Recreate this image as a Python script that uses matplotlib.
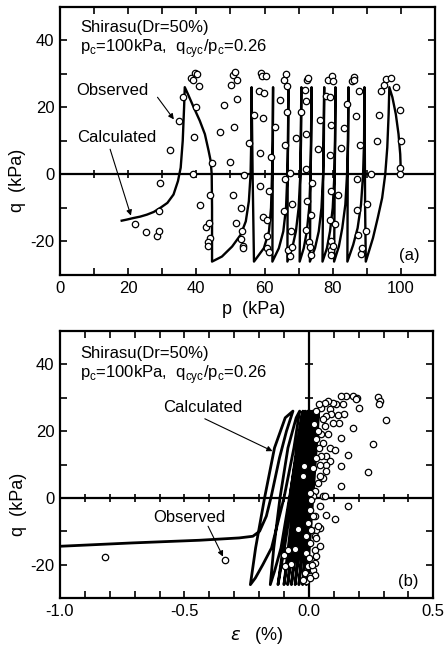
import matplotlib
matplotlib.use("Agg")
import matplotlib.pyplot as plt
from matplotlib.ticker import MultipleLocator, FixedLocator

plt.rcParams['font.family'] = ['Liberation Sans', 'DejaVu Sans']
plt.rcParams['axes.unicode_minus'] = False
plt.rcParams['mathtext.fontset'] = 'dejavusans'

# ---------------- data: panel (a) q-p ----------------
calc_a_p = [100.0, 99.8, 99.3, 98.5, 97.5, 96.6,
            96.4, 96.0, 95.4, 94.5, 93.2, 91.8, 90.6, 89.7,
            89.5, 89.4, 89.3,
            89.2, 88.9, 88.3, 87.3, 86.0, 84.3,
            84.4, 84.6,
            84.5, 84.2, 83.7, 82.8, 81.8, 80.4,
            80.6, 80.8,
            80.7, 80.5, 80.0, 79.2, 78.3, 77.0,
            77.2, 77.5,
            77.4, 77.2, 76.7, 75.9, 74.8, 73.3,
            73.5, 73.8,
            73.7, 73.5, 73.1, 72.4, 71.5, 70.3,
            70.5, 70.8,
            70.7, 70.5, 70.0, 69.2, 68.1, 66.7,
            66.8, 67.0,
            66.9, 66.7, 66.3, 65.5, 64.2, 62.3,
            62.4, 62.5,
            62.4, 62.2, 61.9, 61.3, 59.8, 56.9,
            56.5, 56.2,
            56.1, 55.9, 55.4, 54.5, 53.0, 50.5, 47.5, 44.6,
            44.6, 44.5, 44.2, 43.6, 42.5, 41.0, 39.0, 37.5, 36.6,
            36.4, 36.0, 35.4, 34.6, 33.3, 31.5, 29.4, 27.5, 25.5, 23.5, 21.6, 19.5, 18.1]
calc_a_q = [0, 6, 12, 18, 23, 26,
            18, 8, 0, -7, -13, -19, -23, -26,
            -10, 10, 26,
            10, 0, -9, -16, -21, -26,
            0, 26,
            10, 0, -9, -16, -21.5, -26,
            0, 26,
            10, 0, -10, -17, -22, -26,
            0, 26,
            10, 0, -10, -17, -22, -26,
            0, 26,
            10, 0, -10, -17, -22, -26,
            0, 26,
            10, 0, -10, -17, -22, -26,
            0, 26,
            10, 0, -10, -17, -22, -26,
            0, 26,
            10, 0, -10, -17, -22, -26,
            0, 26,
            10, 0, -8, -14, -18, -21.5, -24.5, -26,
            -10, 0, 4, 7, 12, 16, 20.5, 24, 26,
            20, 10, 2, -2, -6, -8.5, -10, -11.2, -12, -12.6, -13, -13.5, -13.8]

obs_a_p = [22.1, 25.2, 28.4, 28.9, 28.9, 29.4, 32.2, 35.0,
           36.1, 38.5, 39.0, 39.7, 40.2, 40.9, 40.0, 39.4, 39.0, 41.2, 42.7, 43.6, 44.1, 44.6, 44.1, 43.3, 43.3,
           47.0, 48.2, 50.0, 50.3, 50.7, 51.3, 52.0, 51.8, 51.0, 50.7, 51.7, 53.1, 53.4, 53.1, 53.6, 53.6, 53.9, 55.4,
           56.9, 58.3, 59.1, 59.3, 60.3, 59.7, 59.4, 58.8, 58.8, 59.4, 60.8, 60.8, 60.8, 61.4, 61.4, 62.0, 63.0,
           64.5, 65.7, 66.3, 65.9, 65.9, 65.7, 66.5, 66.7, 66.9, 67.5, 67.6, 67.8, 68.1, 68.1, 69.3, 70.8, 71.8,
           72.5, 72.7, 72.3, 72.3, 72.3, 72.5, 72.3, 73.1, 73.2, 73.7, 74.0, 73.5, 75.7, 76.3, 78.0, 78.7, 79.7,
           80.0, 79.2, 79.4, 79.2, 79.4, 79.2, 79.4, 79.4, 79.6, 80.1, 80.7, 81.4, 82.4, 83.3, 84.3, 85.6, 86.1,
           86.3, 86.8, 87.1, 87.1, 87.5, 87.7, 87.9, 88.4, 88.7, 89.9, 90.0, 91.2, 93.1, 93.6, 94.1, 94.9, 95.6,
           97.1, 98.5, 99.8, 100.0, 99.8, 99.8]
obs_a_q = [-14.8, -17.3, -18.5, -16.8, -11.0, -2.5, 7.3, 15.8,
           23.0, 28.7, 28.0, 30.2, 30.0, 26.3, 20.0, 11.2, 0.2, -9.2, -15.6, -14.4, -6.2, 3.5, -19.0, -20.2, -21.5,
           12.5, 20.8, 3.8, 26.8, 29.5, 30.5, 28.0, 22.5, 14.2, -6.2, -14.5, -10.0, -17.0, -19.2, -21.5, -22.0, -0.2, 9.3,
           17.8, 24.8, 30.2, 29.2, 29.2, 24.2, 16.8, 6.5, -3.5, -12.8, -13.5, -18.5, -22.0, -23.2, -5.0, 5.3, 14.2,
           22.2, 28.2, 29.8, 8.7, -1.5, -11.0, 26.5, 18.5, -22.5, -24.2, 0.4, -17.0, -8.8, -21.8, 10.8, 18.7, 25.2,
           28.0, 28.8, 22.0, 12.0, 1.5, -8.0, -16.5, -20.2, -21.8, -12.0, -2.5, -24.0, 7.5, 16.3, 23.3, 28.0, 29.2,
           27.7, 23.2, 14.7, 5.8, -5.0, -13.6, -19.8, -22.5, -24.0, -21.5, -14.8, -6.0, 7.8, 13.7, 21.0, 27.8, 29.0,
           28.2, 17.5, -1.5, -10.5, -18.0, 24.8, 8.8, -23.8, -22.0, -17.0, -8.8, 0.2, 10.0, 17.8, 25.0, 26.8, 28.3,
           28.7, 26.0, 19.2, 10.0, 2.0, 0.0]

# ---------------- data: panel (b) q-eps ----------------
calc_b_eps = [0.000, 0.012, 0.028, 0.040,
              0.030, 0.016, 0.002, -0.006, -0.010,
              -0.001, 0.012, 0.025, 0.034, 0.036,
              0.024, 0.007, -0.010, -0.020, -0.025,
              -0.014, 0.001, 0.016, 0.027, 0.030,
              0.016, -0.004, -0.023, -0.034, -0.040,
              -0.028, -0.010, 0.007, 0.019, 0.022,
              0.007, -0.015, -0.037, -0.049, -0.055,
              -0.041, -0.022, -0.003, 0.011, 0.014,
              -0.003, -0.026, -0.050, -0.063, -0.070,
              -0.055, -0.034, -0.014, 0.001, 0.005,
              -0.013, -0.038, -0.063, -0.078, -0.085,
              -0.069, -0.047, -0.025, -0.009, -0.005,
              -0.024, -0.051, -0.077, -0.092, -0.100,
              -0.083, -0.059, -0.036, -0.019, -0.015,
              -0.037, -0.067, -0.098, -0.115, -0.124,
              -0.104, -0.076, -0.049, -0.029, -0.024,
              -0.045, -0.078, -0.112, -0.138, -0.155,
              -0.141, -0.116, -0.084, -0.051, -0.037,
              -0.060, -0.100, -0.150, -0.185, -0.215, -0.235,
              -0.214, -0.178, -0.138, -0.095, -0.064,
              -0.090, -0.118, -0.151, -0.171, -0.198, -0.225, -0.280, -0.440, -0.710, -1.000]
calc_b_q = [0, 10, 20, 26,
            15, 0, -15, -22, -26,
            -15, 0, 15, 24, 26,
            15, 0, -15, -22, -26,
            -15, 0, 15, 24, 26,
            15, 0, -15, -22, -26,
            -15, 0, 15, 24, 26,
            15, 0, -15, -22, -26,
            -15, 0, 15, 24, 26,
            15, 0, -15, -22, -26,
            -15, 0, 15, 24, 26,
            15, 0, -15, -22, -26,
            -15, 0, 15, 24, 26,
            15, 0, -15, -22, -26,
            -15, 0, 15, 24, 26,
            15, 0, -15, -22, -26,
            -15, 0, 15, 24, 26,
            15, 0, -15, -22, -26,
            -15, 0, 15, 24, 26,
            15, 0, -15, -20, -24, -26,
            -15, 0, 15, 24, 26,
            20, 12, 0.5, -5.5, -10, -11.5, -12, -12.7, -13.5, -14.5]

obs_b_eps = [-0.821, -0.339,
             0.277, 0.284, 0.280, 0.308, 0.257, 0.237, 0.177, 0.195, 0.203, 0.190, 0.179, 0.157,
             0.157, 0.130, 0.130, 0.130, 0.143, 0.136, 0.150, 0.130, 0.107, 0.116, 0.123, 0.110,
             0.096, 0.076, 0.063, 0.050, 0.083, 0.090, 0.070, 0.056, 0.096, 0.063, 0.076, 0.050,
             0.056, 0.083, 0.107, 0.070, 0.050, 0.083, 0.070, 0.070, 0.056, 0.043, 0.036, 0.016,
             0.023, 0.056, 0.063, 0.016, 0.043, 0.070, 0.023, 0.043, 0.030, 0.027, 0.003, 0.010,
             0.003, 0.016, -0.004, 0.009, -0.011, 0.023, 0.003, 0.023, -0.011, 0.009, -0.004, -0.017,
             0.003, -0.011, -0.024, 0.036, 0.043, 0.030, 0.023, 0.016, 0.030, -0.044, -0.057, -0.070,
             -0.095, -0.100, -0.085, 0.030, 0.040, 0.020, 0.035, 0.040, 0.030, 0.045, -0.021, -0.025,
             0.023, 0.013, 0.006, 0.000]
obs_b_q = [-17.7, -18.7,
           30.3, 29.0, 28.0, 23.2, 16.2, 7.7, 30.5, 30.0, 27.0, 29.5, 21.0, 12.7,
           -2.3, 9.5, 3.7, 18.0, 25.0, 28.0, 30.5, 30.5, -6.3, 24.7, 22.5, 28.0,
           28.5, 29.0, 28.5, 27.0, 26.5, 25.0, 24.5, 23.5, 22.5, 21.5, 19.0, 19.0,
           16.5, 15.0, 14.3, 12.5, 12.5, 11.0, 10.0, 8.0, 6.0, 6.5, 4.5, 9.0,
           2.0, 0.5, 0.7, 0.5, -2.5, -5.0, -5.5, -9.0, -9.5, 17.5, 1.5, -0.5,
           -3.5, -5.5, -7.5, -9.5, -11.5, -11.5, -13.5, -15.5, -16.5, -18.5, -20.5, -22.5,
           -23.5, -25.0, -24.5, -8.5, -14.5, -17.5, -19.5, -21.5, -12.0, -9.3, -15.2, -19.7,
           -20.5, -17.0, -15.5, 26.0, 28.0, 22.0, 20.0, 15.0, 12.0, 10.0, 9.5, 6.5,
           -23.0, -20.0, -24.0, -18.0]

p_ticks_on_zero = [10, 20, 30, 40, 50, 60, 70, 80, 90, 100]
eps_ticks_on_zero = [-0.9, -0.8, -0.7, -0.6, -0.5, -0.4, -0.3, -0.2, -0.1, 0.1, 0.2, 0.3, 0.4]
q_ticks_on_axis = [-20, -10, 10, 20, 30, 40]

# ---------------- figure ----------------
fig = plt.figure(figsize=(4.46, 6.47), dpi=100)
ax1 = fig.add_axes([60 / 446, 1 - 275 / 647, 375 / 446, 268.3 / 647])
ax2 = fig.add_axes([60 / 446, 1 - 598 / 647, 373.3 / 446, 267 / 647])

for ax in (ax1, ax2):
    for s in ax.spines.values():
        s.set_linewidth(1.6)
    ax.tick_params(which='both', direction='in', length=5, width=1.2,
                   top=True, right=True, labelsize=12, pad=4)
    ax.set_ylim(-30, 50)
    ax.yaxis.set_major_locator(MultipleLocator(20))
    ax.yaxis.set_minor_locator(MultipleLocator(10))
    ax.axhline(0, color='k', lw=1.6, zorder=2)

# panel (a)
ax1.set_xlim(0, 110)
ax1.xaxis.set_major_locator(FixedLocator([0, 20, 40, 60, 80, 100]))
ax1.xaxis.set_minor_locator(MultipleLocator(10))
ax1.plot(calc_a_p, calc_a_q, color='k', lw=1.7, zorder=2, solid_joinstyle='round')
ax1.plot(p_ticks_on_zero, [0] * len(p_ticks_on_zero), ls='none', marker='|',
         ms=6, mew=1.2, color='k', zorder=2)
ax1.plot(obs_a_p, obs_a_q, ls='none', marker='o', ms=4.6, mfc='white',
         mec='k', mew=0.9, zorder=3)

ax1.text(0.0535, 0.906, 'Shirasu(Dr=50%)', transform=ax1.transAxes, fontsize=12, va='baseline')
ax1.text(0.0535, 0.831, r'p$_\mathregular{c}$=100kPa,  q$_\mathregular{cyc}$/p$_\mathregular{c}$=0.26',
         transform=ax1.transAxes, fontsize=12, va='baseline')
ax1.text(0.904, 0.056, '(a)', transform=ax1.transAxes, fontsize=12, va='baseline')
ax1.text(4.9, 23.7, 'Observed', fontsize=12, va='baseline')
ax1.annotate('', xy=(33.4, 16.4), xytext=(28.6, 23.0),
             arrowprops=dict(arrowstyle='-|>', lw=0.8, color='k', mutation_scale=8,
                             shrinkA=0, shrinkB=0))
ax1.text(4.9, 9.7, 'Calculated', fontsize=12, va='baseline')
ax1.annotate('', xy=(20.8, -12.3), xytext=(14.7, 7.5),
             arrowprops=dict(arrowstyle='-|>', lw=0.8, color='k', mutation_scale=8,
                             shrinkA=0, shrinkB=0))
ax1.text(0.516, -0.145, 'p  (kPa)', transform=ax1.transAxes, fontsize=13,
         ha='center', va='baseline')
ax1.text(-0.112, 0.354, 'q  (kPa)', transform=ax1.transAxes, fontsize=13,
         ha='center', va='center', rotation=90)

# panel (b)
ax2.set_xlim(-1.0, 0.5)
ax2.xaxis.set_major_locator(FixedLocator([-1.0, -0.5, 0.0, 0.5]))
ax2.xaxis.set_minor_locator(MultipleLocator(0.1))
ax2.set_xticklabels(['-1.0', '-0.5', '0.0', '0.5'])
ax2.axvline(0, color='k', lw=1.6, zorder=2)
ax2.plot(calc_b_eps, calc_b_q, color='k', lw=2.0, zorder=2, solid_joinstyle='round')
ax2.plot(eps_ticks_on_zero, [0] * len(eps_ticks_on_zero), ls='none', marker='|',
         ms=6, mew=1.2, color='k', zorder=2)
ax2.plot([0] * len(q_ticks_on_axis), q_ticks_on_axis, ls='none', marker='_',
         ms=6, mew=1.2, color='k', zorder=2)
ax2.plot(obs_b_eps, obs_b_q, ls='none', marker='o', ms=4.6, mfc='white',
         mec='k', mew=0.9, zorder=3)

ax2.text(0.0535, 0.899, 'Shirasu(Dr=50%)', transform=ax2.transAxes, fontsize=12, va='baseline')
ax2.text(0.0535, 0.824, r'p$_\mathregular{c}$=100kPa,  q$_\mathregular{cyc}$/p$_\mathregular{c}$=0.26',
         transform=ax2.transAxes, fontsize=12, va='baseline')
ax2.text(0.905, 0.046, '(b)', transform=ax2.transAxes, fontsize=12, va='baseline')
ax2.text(-0.586, 25.7, 'Calculated', fontsize=12, va='baseline')
ax2.annotate('', xy=(-0.146, 14.0), xytext=(-0.418, 23.7),
             arrowprops=dict(arrowstyle='-|>', lw=0.8, color='k', mutation_scale=8,
                             shrinkA=0, shrinkB=0))
ax2.text(-0.626, -7.2, 'Observed', fontsize=12, va='baseline')
ax2.annotate('', xy=(-0.345, -17.6), xytext=(-0.405, -8.5),
             arrowprops=dict(arrowstyle='-|>', lw=0.8, color='k', mutation_scale=8,
                             shrinkA=0, shrinkB=0))
ax2.text(0.528, -0.157, r'$\it{\varepsilon}$   (%)', transform=ax2.transAxes, fontsize=13,
         ha='center', va='baseline')
ax2.text(-0.112, 0.352, 'q  (kPa)', transform=ax2.transAxes, fontsize=13,
         ha='center', va='center', rotation=90)

fig.savefig('out.png', dpi=100)
